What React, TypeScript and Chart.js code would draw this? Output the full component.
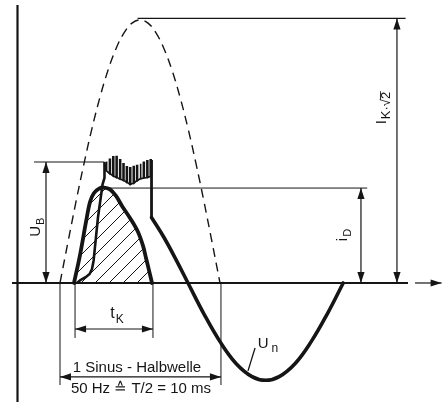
import React, { useEffect, useRef } from "react";
import { Chart, registerables } from "chart.js";

Chart.register(...registerables);

// ---- data (time in ms, values in % of the prospective peak I_K·√2) ----
const prospectiveT = [0, 0.5, 1, 1.5, 2, 2.5, 3, 3.5, 4, 4.5, 5, 5.5, 6, 6.5, 7, 7.5, 8, 8.5, 9, 9.5, 10];
const prospectiveI = [0, 15.6, 30.9, 45.4, 58.8, 70.7, 80.9, 89.1, 95.1, 98.8, 100, 98.8, 95.1, 89.1, 80.9, 70.7, 58.8, 45.4, 30.9, 15.6, 0];

const currentT = [0.875, 1.25, 1.625, 1.875, 2.125, 2.44, 2.75, 3.125, 3.5, 3.875, 4.375, 4.875, 5.19, 5.375, 5.56, 5.75];
const currentI = [0, 10.6, 23.2, 30.8, 34.2, 35.9, 36.3, 35.6, 33.1, 29.3, 24.7, 19.4, 14.1, 9.5, 4.9, 0];

const riseT = [1.06, 1.3, 1.6, 1.85, 2.0, 2.1, 2.375, 2.66, 2.78, 2.78];
const riseU = [0, 1.2, 2.2, 3.4, 5.3, 8.5, 25, 37.5, 40, 46];

// arc-voltage oscillation: one spike per entry
const arcT = [2.875, 3.09, 3.3, 3.51, 3.73, 3.94, 4.15, 4.36, 4.58, 4.79, 5.0, 5.21, 5.43, 5.64];
const arcTop = [46.2, 47, 48, 48.1, 46.8, 45.3, 44.2, 43.8, 44.3, 44.7, 45.3, 45.9, 46.5, 46.8];
const arcBottom = [42.6, 41.6, 40.7, 40.1, 39.5, 39, 38.3, 37.5, 38, 38.9, 39.6, 39.9, 40.1, 40.5];

const dropT = [5.72, 5.72];
const dropU = [46.8, 24.9];

const unT = [5.72, 6.5, 7.25, 8, 9, 10, 11, 12, 12.85, 13.7, 14.7, 15.7, 16.7, 17.7];
const unU = [24.9, 17.3, 8.9, 0, -11.8, -22.3, -30.6, -35.6, -37, -35.6, -30.6, -22.3, -11.8, 0];

const peakLevel = 100;
const iDLevel = 36.1;
const uBLevel = 46;
const halfWaveEnd = 10.06;
const tKStart = 0.94;
const tKEnd = 5.81;

const INK = "#151515";
const FONT = '"Liberation Sans", Arial, Helvetica, sans-serif';

const pts = (xs: number[], ys: number[]) => xs.map((x, i) => ({ x, y: ys[i] }));

type Part = { text: string; size: number; dy?: number; gap?: number; bar?: boolean };

function drawLabel(ctx: CanvasRenderingContext2D, px: number, py: number, rot: number, parts: Part[]) {
  ctx.save();
  ctx.translate(px, py);
  ctx.rotate(rot);
  ctx.textBaseline = "alphabetic";
  ctx.textAlign = "left";
  const main = parts[0].size;
  const widths = parts.map((p) => {
    ctx.font = `${p.size}px ${FONT}`;
    return ctx.measureText(p.text).width + (p.gap || 0);
  });
  const total = widths.reduce((a, b) => a + b, 0);
  let x = -total / 2;
  const base = 0.36 * main;
  parts.forEach((p, i) => {
    ctx.font = `${p.size}px ${FONT}`;
    x += p.gap || 0;
    const y = base + (p.dy || 0);
    ctx.fillText(p.text, x, y);
    if (p.bar) {
      const w = ctx.measureText(p.text).width;
      ctx.beginPath();
      ctx.lineWidth = 0.9;
      ctx.moveTo(x - 1, y - 0.76 * p.size);
      ctx.lineTo(x + w + 0.5, y - 0.76 * p.size);
      ctx.stroke();
    }
    x += widths[i] - (p.gap || 0);
  });
  ctx.restore();
}

const decorations = {
  id: "decorations",
  beforeDatasetsDraw(chart: any) {
    const { ctx, scales } = chart;
    const X = (t: number) => scales.x.getPixelForValue(t);
    const Y = (v: number) => scales.y.getPixelForValue(v);
    ctx.save();
    ctx.strokeStyle = INK;
    ctx.fillStyle = INK;
    ctx.lineCap = "butt";

    const seg = (t1: number, v1: number, t2: number, v2: number, w: number) => {
      ctx.beginPath();
      ctx.lineWidth = w;
      ctx.moveTo(X(t1), Y(v1));
      ctx.lineTo(X(t2), Y(v2));
      ctx.stroke();
    };
    const head = (px: number, py: number, dx: number, dy: number) => {
      const L = 11, W = 3.6;
      ctx.beginPath();
      ctx.moveTo(px, py);
      ctx.lineTo(px - dx * L - dy * W, py - dy * L + dx * W);
      ctx.lineTo(px - dx * L + dy * W, py - dy * L - dx * W);
      ctx.closePath();
      ctx.fill();
    };
    const arrow = (t1: number, v1: number, t2: number, v2: number, both: boolean) => {
      const x1 = X(t1), y1 = Y(v1), x2 = X(t2), y2 = Y(v2);
      const len = Math.hypot(x2 - x1, y2 - y1);
      const dx = (x2 - x1) / len, dy = (y2 - y1) / len;
      seg(t1, v1, t2, v2, 1.2);
      head(x2, y2, dx, dy);
      if (both) head(x1, y1, -dx, -dy);
    };

    // coordinate axes
    seg(-2.656, 105.7, -2.656, -46, 2.2);
    seg(-3.0, 0, 21.75, 0, 1.8);
    arrow(22.19, 0, 23.85, 0, false);

    // level lines
    seg(4.85, peakLevel + 0.6, 21.6, peakLevel + 0.6, 1.1);
    seg(2.7, iDLevel, 19.2, iDLevel, 1.0);
    seg(-1.625, uBLevel, 2.78, uBLevel, 1.0);

    // dimension arrows
    arrow(21.06, 0, 21.06, peakLevel + 0.6, true);
    arrow(18.81, 0, 18.81, iDLevel, true);
    arrow(-0.875, 0, -0.875, uBLevel, true);

    // extension lines below the axis
    seg(0, 0, 0, -38.8, 1.0);
    seg(tKStart, 0, tKStart, -20.9, 1.0);
    seg(tKEnd, 0, tKEnd, -20.9, 1.0);
    seg(halfWaveEnd, 0, halfWaveEnd, -38.8, 1.0);
    arrow(tKStart, -17.5, tKEnd, -17.5, true);
    arrow(0, -35.7, halfWaveEnd, -35.7, true);

    // U_n leader
    seg(12.19, -24.7, 11.75, -33.4, 1.3);

    // labels
    const R = -Math.PI / 2;
    drawLabel(ctx, X(-1.56), Y(21.2), R, [
      { text: "U", size: 15 },
      { text: "B", size: 11, dy: 4, gap: 1 },
    ]);
    drawLabel(ctx, X(17.625), Y(18.25), R, [
      { text: "i", size: 15 },
      { text: "D", size: 11, dy: 4, gap: 1 },
    ]);
    drawLabel(ctx, X(20.06), Y(66.5), R, [
      { text: "I", size: 15 },
      { text: "K", size: 13, dy: 4, gap: 1 },
      { text: "·√", size: 13, dy: 4 },
      { text: "2", size: 13, dy: 4, bar: true },
    ]);
    drawLabel(ctx, X(3.56), Y(-11.2), 0, [
      { text: "t", size: 16 },
      { text: "K", size: 12, dy: 5, gap: 1 },
    ]);
    drawLabel(ctx, X(13.0), Y(-22.8), 0, [
      { text: "U", size: 15 },
      { text: "n", size: 12, dy: 4, gap: 3 },
    ]);
    drawLabel(ctx, X(4.81), Y(-31.6), 0, [{ text: "1 Sinus - Halbwelle", size: 15 }]);
    drawLabel(ctx, X(5.06), Y(-39.9), 0, [{ text: "50 Hz ≙ T/2 = 10 ms", size: 15 }]);

    ctx.restore();
  },
};

export default function App() {
  const ref = useRef<HTMLCanvasElement>(null);

  useEffect(() => {
    const canvas = ref.current;
    if (!canvas) return;
    const ctx = canvas.getContext("2d");
    if (!ctx) return;

    // hatch pattern for the let-through current area
    const tile = document.createElement("canvas");
    tile.width = 14;
    tile.height = 14;
    const tc = tile.getContext("2d")!;
    tc.strokeStyle = INK;
    tc.lineWidth = 1;
    tc.beginPath();
    tc.moveTo(0, 14);
    tc.lineTo(14, 0);
    tc.moveTo(-7, 7);
    tc.lineTo(7, -7);
    tc.moveTo(7, 21);
    tc.lineTo(21, 7);
    tc.stroke();
    const hatch = ctx.createPattern(tile, "repeat");

    // arc-voltage spikes: narrow vertical pulses
    const arcPts: { x: number; y: number }[] = [{ x: 2.78, y: 46 }];
    arcT.forEach((t, i) => {
      arcPts.push({ x: t, y: arcBottom[i] });
      arcPts.push({ x: t, y: arcTop[i] });
      arcPts.push({ x: t + 0.06, y: arcTop[i] });
      arcPts.push({ x: t + 0.06, y: arcBottom[i] });
    });
    arcPts.push({ x: dropT[0], y: dropU[0] });

    const base = {
      borderColor: INK,
      pointRadius: 0,
      fill: false,
    };

    const chart = new Chart(canvas, {
      type: "line",
      data: {
        datasets: [
          { ...base, label: "u rise", data: pts(riseT, riseU), borderWidth: 2.6, tension: 0, borderJoinStyle: "round" },
          { ...base, label: "u arc", data: arcPts, borderWidth: 1.6, tension: 0, borderJoinStyle: "miter" },
          { ...base, label: "u drop", data: pts(dropT, dropU), borderWidth: 2.8, tension: 0 },
          { ...base, label: "U_n", data: pts(unT, unU), borderWidth: 3.6, tension: 0.4, borderCapStyle: "round" },
          {
            ...base,
            label: "i",
            data: pts(currentT, currentI),
            borderWidth: 3.8,
            tension: 0.35,
            fill: "origin",
            backgroundColor: hatch as any,
            borderJoinStyle: "round",
            borderCapStyle: "round",
          },
          {
            ...base,
            label: "prospective",
            data: pts(prospectiveT, prospectiveI),
            borderWidth: 1.4,
            borderDash: [9, 6],
            tension: 0.4,
          },
        ],
      },
      options: {
        responsive: false,
        animation: false,
        events: [],
        layout: { padding: 0 },
        plugins: { legend: { display: false }, tooltip: { enabled: false } },
        scales: {
          x: { type: "linear", display: false, min: -3.75, max: 23.9375 },
          y: { type: "linear", display: false, min: -45.25, max: 107.6 },
        },
      },
      plugins: [decorations],
    });

    return () => chart.destroy();
  }, []);

  return (
    <canvas
      ref={ref}
      width={443}
      height={402}
      style={{ position: "fixed", left: 0, top: 0, display: "block", background: "#fff" }}
    />
  );
}
